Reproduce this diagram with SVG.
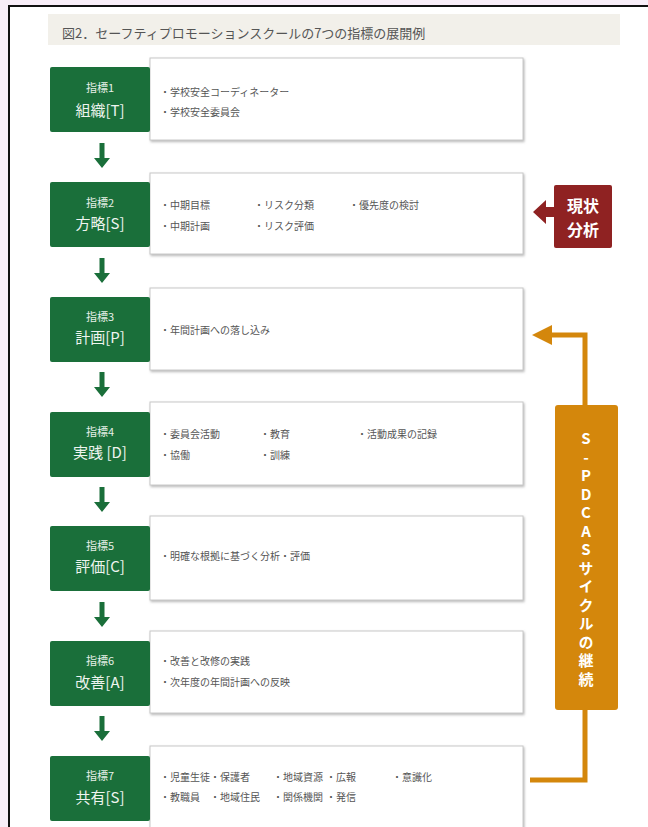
<svg xmlns="http://www.w3.org/2000/svg" width="648" height="827" viewBox="0 0 648 827">
<style>
.g{fill:#1a6f3a}
.w{fill:#fff;stroke:#c8c8c8;stroke-width:1}
.t1{font-family:"Noto Sans CJK JP","Noto Sans",sans-serif;font-size:11px;fill:#e6efe8;text-anchor:middle}
.t2{font-family:"Noto Sans CJK JP","Noto Sans",sans-serif;font-size:15px;fill:#eef4ef;text-anchor:middle}
.b{font-family:"Noto Sans CJK JP","Noto Sans",sans-serif;font-size:10px;fill:#555}
.ga{fill:#1a6f3a}
.o{fill:none;stroke:#d4870c;stroke-width:5}
.wt{font-family:"Noto Sans CJK JP","Noto Sans",sans-serif;font-size:16px;font-weight:bold;fill:#fff;text-anchor:middle}
</style>
<defs>
<filter id="sh" x="-5%" y="-5%" width="110%" height="115%">
<feDropShadow dx="1" dy="1.5" stdDeviation="1" flood-color="#888" flood-opacity="0.6"/>
</filter>
<marker id="oa" viewBox="0 0 10 10" refX="2" refY="5" markerWidth="4" markerHeight="4" orient="auto" markerUnits="strokeWidth">
<path d="M0,0 L10,5 L0,10 z" fill="#d4870c"/>
</marker>
<path id="dn" d="M-2.5,0 H2.5 V15 H8 L0,25 L-8,15 H-2.5 z"/>
</defs>
<rect width="648" height="827" fill="#f8eef8"/>
<rect x="9" y="6" width="650" height="830" fill="#fff" stroke="#111" stroke-width="2"/>
<g id="title">
<rect x="48" y="14" width="572" height="31" fill="#f2f0ea"/>
<text x="62" y="38" font-family="Noto Sans CJK JP,Noto Sans,sans-serif" font-size="13" fill="#555">図2．セーフティプロモーションスクールの7つの指標の展開例</text>
</g>
<g id="connectors">
<use href="#dn" x="102" y="143" class="ga"/>
<use href="#dn" x="102" y="258" class="ga"/>
<use href="#dn" x="102" y="372" class="ga"/>
<use href="#dn" x="102" y="487" class="ga"/>
<use href="#dn" x="102" y="602" class="ga"/>
<use href="#dn" x="102" y="716" class="ga"/>
<path class="o" d="M530,780 H585 V710"/>
<path class="o" d="M585,405 V335 H548" marker-end="url(#oa)"/>
<polygon points="533,212 546,200 546,207 556,207 556,217 546,217 546,224" fill="#8f2222"/>
</g>
<g id="n1">
<rect class="w" x="150" y="58" width="373" height="82" filter="url(#sh)"/>
<rect class="g" x="50" y="67" width="100" height="65" rx="2"/>
<text class="t1" x="100" y="92">指標1</text>
<text class="t2" x="100" y="116">組織[T]</text>
<text class="b" x="160" y="96">・学校安全コーディネーター</text>
<text class="b" x="160" y="116">・学校安全委員会</text>
</g>
<g id="n2">
<rect class="w" x="150" y="173" width="373" height="81" filter="url(#sh)"/>
<rect class="g" x="50" y="182" width="100" height="65" rx="2"/>
<text class="t1" x="100" y="207">指標2</text>
<text class="t2" x="100" y="229">方略[S]</text>
<text class="b" x="160" y="209">・中期目標</text>
<text class="b" x="160" y="230">・中期計画</text>
<text class="b" x="254" y="209">・リスク分類</text>
<text class="b" x="254" y="230">・リスク評価</text>
<text class="b" x="349" y="209">・優先度の検討</text>
</g>
<g id="n3">
<rect class="w" x="150" y="288" width="373" height="82" filter="url(#sh)"/>
<rect class="g" x="50" y="297" width="100" height="65" rx="2"/>
<text class="t1" x="100" y="321">指標3</text>
<text class="t2" x="100" y="343">計画[P]</text>
<text class="b" x="160" y="334">・年間計画への落し込み</text>
</g>
<g id="n4">
<rect class="w" x="150" y="402" width="373" height="83" filter="url(#sh)"/>
<rect class="g" x="50" y="412" width="100" height="65" rx="2"/>
<text class="t1" x="100" y="436">指標4</text>
<text class="t2" x="100" y="458">実践 [D]</text>
<text class="b" x="160" y="438">・委員会活動</text>
<text class="b" x="160" y="459">・協働</text>
<text class="b" x="260" y="438">・教育</text>
<text class="b" x="260" y="459">・訓練</text>
<text class="b" x="357" y="438">・活動成果の記録</text>
</g>
<g id="n5">
<rect class="w" x="150" y="516" width="373" height="84" filter="url(#sh)"/>
<rect class="g" x="50" y="526" width="100" height="65" rx="2"/>
<text class="t1" x="100" y="550">指標5</text>
<text class="t2" x="100" y="572">評価[C]</text>
<text class="b" x="160" y="560">・明確な根拠に基づく分析・評価</text>
</g>
<g id="n6">
<rect class="w" x="150" y="631" width="373" height="82" filter="url(#sh)"/>
<rect class="g" x="50" y="641" width="100" height="65" rx="2"/>
<text class="t1" x="100" y="665">指標6</text>
<text class="t2" x="100" y="688">改善[A]</text>
<text class="b" x="160" y="665">・改善と改修の実践</text>
<text class="b" x="160" y="686">・次年度の年間計画への反映</text>
</g>
<g id="n7">
<rect class="w" x="150" y="746" width="373" height="90" filter="url(#sh)"/>
<rect class="g" x="50" y="756" width="100" height="65" rx="2"/>
<text class="t1" x="100" y="780">指標7</text>
<text class="t2" x="100" y="803">共有[S]</text>
<text class="b" x="160" y="781">・児童生徒</text>
<text class="b" x="210" y="781">・保護者</text>
<text class="b" x="273" y="781">・地域資源</text>
<text class="b" x="326" y="781">・広報</text>
<text class="b" x="392" y="781">・意識化</text>
<text class="b" x="160" y="801">・教職員</text>
<text class="b" x="210" y="801">・地域住民</text>
<text class="b" x="273" y="801">・関係機関</text>
<text class="b" x="326" y="801">・発信</text>
</g>
<g id="genjo">
<rect x="554" y="185" width="58" height="63" rx="2" fill="#8f2222"/>
<text class="wt" x="583" y="212">現状</text>
<text class="wt" x="583" y="236">分析</text>
</g>
<g id="spdcas">
<rect x="555" y="405" width="63" height="305" rx="3" fill="#d4870c"/>
<text x="586" y="431" font-family="Noto Sans CJK JP,Noto Sans,sans-serif" font-size="15" font-weight="bold" fill="#fff" style="writing-mode:vertical-rl;text-orientation:upright;letter-spacing:3.5px">S-PDCASサイクルの継続</text>
</g>
</svg>
